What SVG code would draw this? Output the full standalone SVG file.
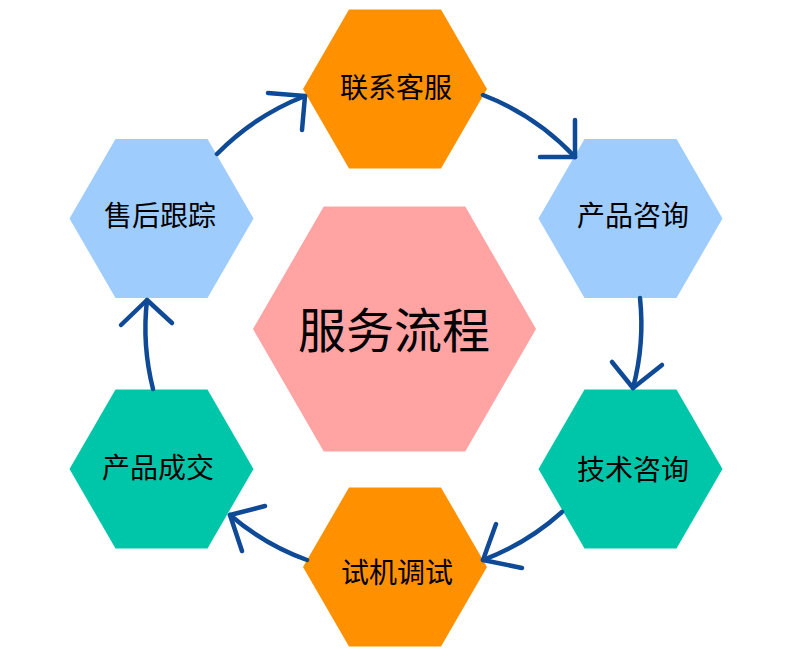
<svg xmlns="http://www.w3.org/2000/svg" xmlns:xlink="http://www.w3.org/1999/xlink" width="790" height="660" viewBox="0 0 790 660">
<style>
.lbl{font-family:"Noto Sans CJK SC",sans-serif;font-size:28px;fill:#000;text-anchor:middle;dominant-baseline:central}
.big{font-size:48px}
.orange{fill:#FF9100}
.blue{fill:#9ECCFD}
.teal{fill:#00C6A9}
.pink{fill:#FFA3A3}
.conn path{fill:none;stroke:#0E4A96;stroke-width:4.5;stroke-linecap:round;stroke-linejoin:round}
</style>
<defs>
<polygon id="hex" points="-92,0 -46,-79.5 46,-79.5 92,0 46,79.5 -46,79.5"/>
</defs>
<rect width="790" height="660" fill="#fff"/>
<g id="center">
<polygon class="pink" points="253,329 323.75,206.5 465.25,206.5 536,329 465.25,451.5 323.75,451.5"/>
<text class="lbl big" x="394" y="327">服务流程</text>
</g>
<g id="n1">
<use xlink:href="#hex" class="orange" x="395" y="89"/>
<text class="lbl" x="396" y="86">联系客服</text>
</g>
<g id="n2">
<use xlink:href="#hex" class="blue" x="630.5" y="218.5"/>
<text class="lbl" x="633" y="214">产品咨询</text>
</g>
<g id="n3">
<use xlink:href="#hex" class="teal" x="630.5" y="469"/>
<text class="lbl" x="633" y="468">技术咨询</text>
</g>
<g id="n4">
<use xlink:href="#hex" class="orange" x="395" y="567"/>
<text class="lbl" x="397" y="571">试机调试</text>
</g>
<g id="n5">
<use xlink:href="#hex" class="teal" x="161.5" y="469"/>
<text class="lbl" x="158" y="466">产品成交</text>
</g>
<g id="n6">
<use xlink:href="#hex" class="blue" x="161.5" y="218.5"/>
<text class="lbl" x="160" y="214">售后跟踪</text>
</g>
<g id="connectors" class="conn">
<path d="M483,95 A249,249 0 0 1 575,157"/>
<path d="M575,120 L575,157 L540,157"/>
<path d="M640,298 A249,249 0 0 1 633,388"/>
<path d="M612,362 L633,388 L662,365"/>
<path d="M562,512 A249,249 0 0 1 483,560"/>
<path d="M496,524 L483,560 L522,568"/>
<path d="M307,560 A249,249 0 0 1 230,515"/>
<path d="M265,506 L230,515 L242,551"/>
<path d="M153,389 A249,249 0 0 1 147,300"/>
<path d="M121,325 L147,300 L172,323"/>
<path d="M217,154 A249,249 0 0 1 305,96"/>
<path d="M268,93 L305,96 L302,130"/>
</g>
</svg>
